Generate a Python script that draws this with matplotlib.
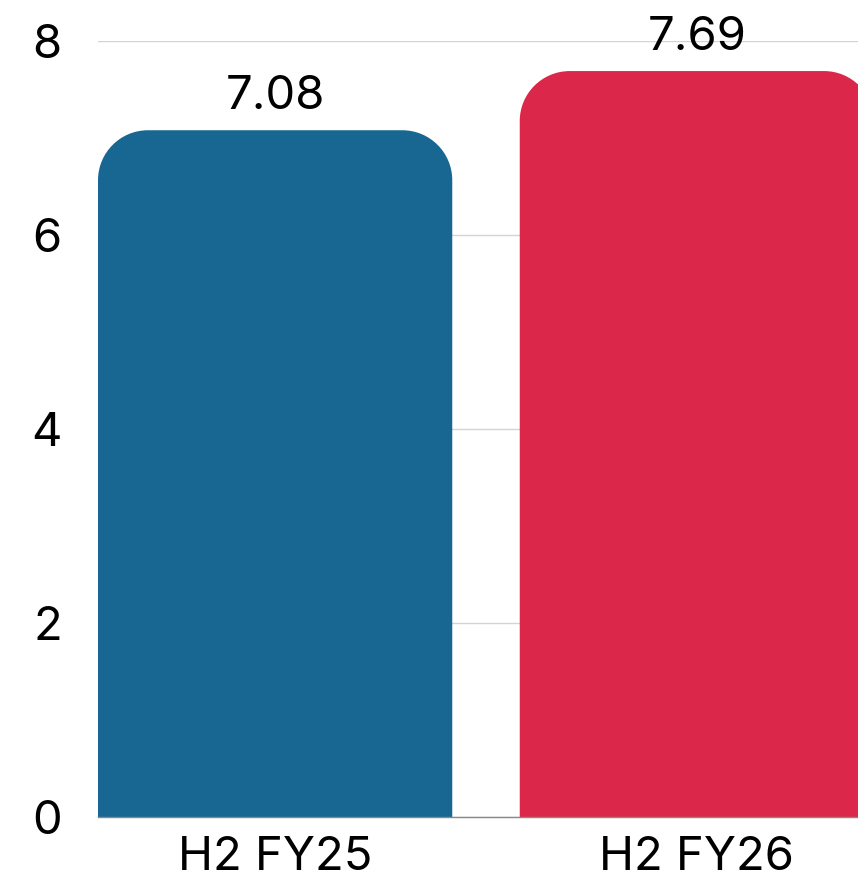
import matplotlib
matplotlib.use("Agg")
import matplotlib.pyplot as plt
from matplotlib.path import Path
from matplotlib.patches import PathPatch

categories = ["H2 FY25", "H2 FY26"]
values = [7.08, 7.69]
colors = ["#186792", "#DB2749"]
yticks = [0, 2, 4, 6, 8]

plt.rcParams['font.family'] = ['Inter', 'DejaVu Sans']

fig = plt.figure(figsize=(8.58, 8.91), dpi=100)
# axes runs a bit past the right edge of the figure, like the original
ax = fig.add_axes([98 / 858, 74 / 891, 776 / 858, 776 / 891])

bar_w = 0.84
ax.set_xlim(-0.42, 1.42)
ax.set_ylim(0, 8)

bars = ax.bar(range(len(categories)), values, width=bar_w, color=colors, zorder=2)

# rounded top corners (radius in pixels, converted to data units)
r_px = 50
p0 = ax.transData.transform((0, 0))
p1 = ax.transData.transform((1, 1))
rx = r_px / (p1[0] - p0[0])
ry = r_px / (p1[1] - p0[1])
k = 0.5523
for rect in bars:
    x, y = rect.get_x(), rect.get_y()
    w, h = rect.get_width(), rect.get_height()
    top = y + h
    verts = [
        (x, y), (x, top - ry),
        (x, top - ry + k * ry), (x + rx - k * rx, top), (x + rx, top),
        (x + w - rx, top),
        (x + w - rx + k * rx, top), (x + w, top - ry + k * ry), (x + w, top - ry),
        (x + w, y), (x, y),
    ]
    codes = [Path.MOVETO, Path.LINETO,
             Path.CURVE4, Path.CURVE4, Path.CURVE4,
             Path.LINETO,
             Path.CURVE4, Path.CURVE4, Path.CURVE4,
             Path.LINETO, Path.CLOSEPOLY]
    patch = PathPatch(Path(verts, codes), facecolor=rect.get_facecolor(),
                      edgecolor='none', zorder=2)
    rect.set_visible(False)
    ax.add_patch(patch)

for i, v in enumerate(values):
    ax.annotate(f"{v:.2f}", (i, v), xytext=(0, 8), textcoords='offset points',
                ha='center', va='bottom', fontsize=34, color='black')

ax.set_xticks(range(len(categories)))
ax.set_xticklabels(categories)
ax.set_yticks(yticks)
ax.tick_params(axis='both', length=0, labelsize=34)
ax.tick_params(axis='y', pad=26)
ax.tick_params(axis='x', pad=14)

ax.yaxis.grid(True, color='#d4d4d4', linewidth=1, zorder=0)
ax.set_axisbelow(True)
for s in ['top', 'right', 'left']:
    ax.spines[s].set_visible(False)
ax.spines['bottom'].set_color('#888888')
ax.spines['bottom'].set_linewidth(1)

fig.savefig("out.png", dpi=100)
